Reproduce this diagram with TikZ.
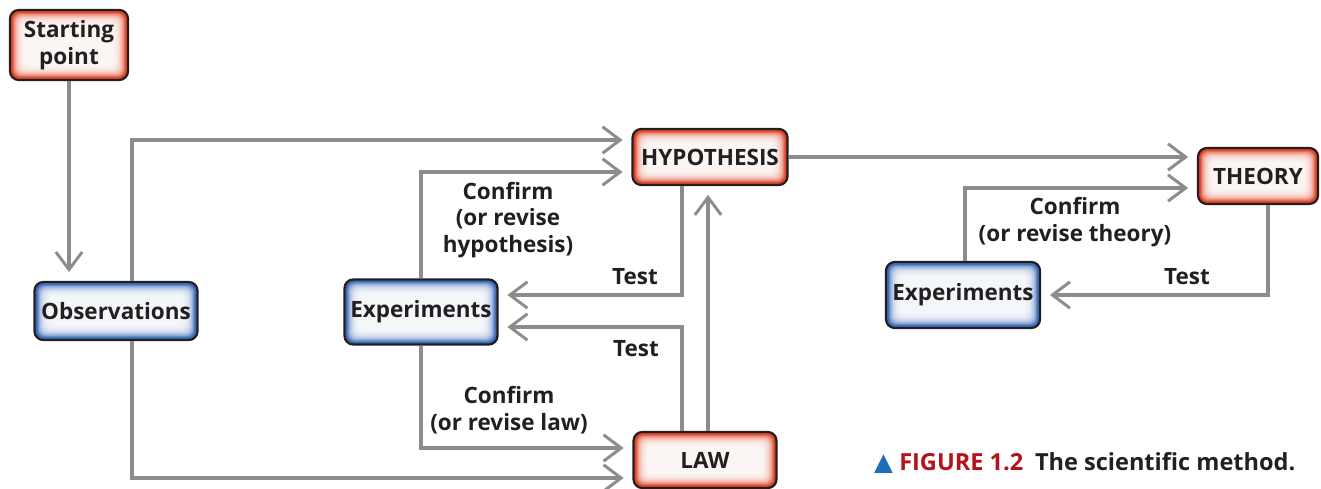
\documentclass[tikz,border=0pt]{standalone}
\usepackage{fontspec}
\setmainfont{Open Sans}
\newfontfamily\symfont{DejaVu Sans}
\usepackage{xcolor}
\usetikzlibrary{arrows.meta,positioning}

\definecolor{ink}{HTML}{231F20}
\definecolor{linegray}{HTML}{8C8C8C}
\definecolor{glowred}{HTML}{E0482C}
\definecolor{glowblue}{HTML}{3F6DBA}
\definecolor{capred}{HTML}{B5121B}
\definecolor{capblue}{HTML}{1F6FB8}

\tikzset{
  glow/.style={path picture={
      \foreach \k in {1,...,14}
        \fill[white, opacity=0.2, rounded corners=4pt]
          ([shift={(1.2pt+\k*0.5pt,-1.2pt-\k*0.5pt)}]path picture bounding box.north west)
          rectangle ([shift={(-1.2pt-\k*0.5pt,1.2pt+\k*0.5pt)}]path picture bounding box.south east);
    }},
  box/.style={rectangle, rounded corners=5pt, draw=ink, line width=1.3pt,
    fill=#1, glow, align=center, text=ink, font=\bfseries\fontsize{12.8}{14.5}\selectfont},
  redbox/.style={box=glowred},
  bluebox/.style={box=glowblue},
  arrow/.style={draw=linegray, line width=2.8pt,
    -{Straight Barb[length=10pt, width=15pt, line width=1.7pt]}, shorten >=5pt},
  lbl/.style={align=center, text=ink, font=\bfseries\fontsize{12.8}{15}\selectfont}
}

\begin{document}
\begin{tikzpicture}[x=0.02cm, y=-0.02cm]
  \useasboundingbox (0,0) rectangle (1321,489);

  \node[redbox, minimum width=2.36cm, minimum height=1.4cm] (start) at (69,45) {Starting\\[1pt]point};
  \node[bluebox, minimum width=3.26cm, minimum height=1.16cm] (obs) at (116,311) {Observations};
  \node[bluebox, minimum width=3.06cm, minimum height=1.3cm] (exp) at (421,312) {Experiments};
  \node[redbox, minimum width=3.1cm, minimum height=1.12cm] (hyp) at (710,157) {HYPOTHESIS};
  \node[redbox, minimum width=2.86cm, minimum height=1.12cm] (law) at (705,460) {LAW};
  \node[redbox, minimum width=2.4cm, minimum height=1.12cm] (theory) at (1258,176) {THEORY};
  \node[bluebox, minimum width=3.08cm, minimum height=1.32cm] (exptwo) at (963,295) {Experiments};

  % left part
  \draw[arrow] (start.south) -- (start.south |- obs.north);
  \draw[arrow] ([xshift=0.32cm]obs.north) |- ([yshift=0.34cm]hyp.west);
  \draw[arrow] (exp.north) |- ([yshift=-0.3cm]hyp.west);
  \draw[arrow] ([xshift=-0.56cm]hyp.south) |- ([yshift=0.34cm]exp.east);
  \draw[arrow] ([xshift=0.06cm]law.north) -- ([xshift=0.06cm]law.north |- hyp.south);
  \draw[arrow] ([xshift=-0.46cm]law.north) |- ([yshift=-0.3cm]exp.east);
  \draw[arrow] (exp.south) |- ([yshift=0.24cm]law.west);
  \draw[arrow] ([xshift=0.32cm]obs.south) |- ([yshift=-0.36cm]law.west);

  % right part
  \draw[arrow] (hyp.east) -- (hyp.east -| theory.west);
  \draw[arrow] ([xshift=0.04cm]exptwo.north) |- ([yshift=-0.24cm]theory.west);
  \draw[arrow] ([xshift=0.2cm]theory.south) |- (exptwo.east);

  % labels
  \node[lbl] (conhyp) at (508,220) {Confirm\\(or revise\\hypothesis)};
  \node[lbl] (testa) at (635,277) {Test};
  \node[lbl] (testb) at (636,349) {Test};
  \node[lbl] (conlaw) at (509,410) {Confirm\\(or revise law)};
  \node[lbl] (conthe) at (1075,222) {Confirm\\(or revise theory)};
  \node[lbl] (testc) at (1187,277) {Test};

  \node[anchor=west, font=\bfseries\fontsize{13.4}{15}\selectfont, text=ink] (caption) at (868,463)
    {{\color{capblue}\symfont\fontsize{14}{15}\selectfont ▲} \textcolor{capred}{FIGURE 1.2}\hspace{0.5em}The scientific method.};
\end{tikzpicture}
\end{document}
